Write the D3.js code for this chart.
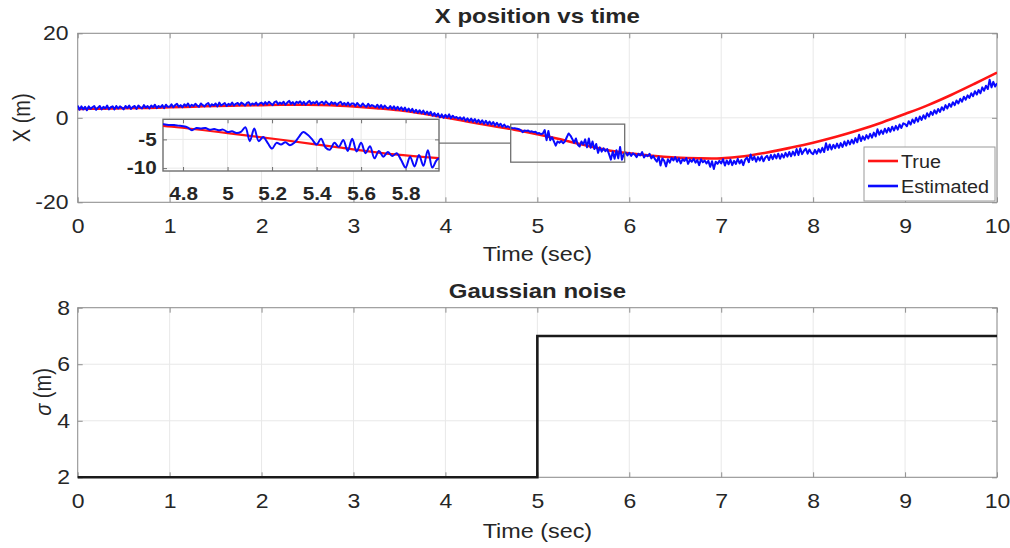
<!DOCTYPE html>
<html>
<head>
<meta charset="utf-8">
<script src="https://cdn.jsdelivr.net/npm/d3@7"></script>
<style>
  html, body { margin: 0; padding: 0; background: #fff; }
  svg { display: block; }
</style>
</head>
<body>
<svg id="chart" width="1010" height="548"></svg>
<script>
// ---- data -----------------------------------------------------------------
const timeTicks   = [0, 1, 2, 3, 4, 5, 6, 7, 8, 9, 10];
const posTicks    = [-20, 0, 20];
const sigmaTicks  = [2, 4, 6, 8];
const zoomTimeTicks = [4.8, 5, 5.2, 5.4, 5.6, 5.8];
const zoomPosTicks  = [-10, -5];
const zoomWindowT = [4.71, 5.95];
const zoomWindowX = [-10.5, -1.5];

const seriesNames = ["True", "Estimated"];

// true position, sampled every 0.25 s
const trueStep = 0.25;
const truePos = [
  2.1, 2.15, 2.25, 2.35, 2.5, 2.65, 2.8, 2.9, 3.0, 3.1, 3.1, 3.0, 2.7, 2.3, 1.8, 1.0,
  0.1, -0.9, -1.9, -2.8, -3.9, -5.1, -6.4, -7.6, -8.4, -9.0, -9.4, -9.6, -9.6, -9.1,
  -8.2, -7.1, -5.9, -4.5, -2.9, -1.1, 0.9, 3.0, 5.4, 8.0, 10.7
];

// filter estimate, sampled every 0.02 s (one row per second)
const estStep = 0.02;
const estPos = [
  2.9,1.9,2.7,2.0,2.6,1.8,2.7,2.1,2.5,2.8, 1.9,2.4,2.8,2.0,2.6,2.2,2.9,2.0,2.5,2.7, 2.0,2.8,2.2,2.7,2.4,2.0,2.8,2.3,2.9,2.1, 2.6,2.8,2.1,2.9,2.5,2.2,3.0,2.4,2.8,2.2, 2.9,2.5,3.1,2.3,2.8,2.5,3.0,2.3,3.1,2.6,
  2.6,3.2,2.5,3.0,3.3,2.6,3.0,2.5,3.2,2.8, 3.4,2.6,3.1,2.8,3.3,2.9,2.6,3.4,3.0,2.7, 3.2,3.5,2.7,3.2,2.9,3.4,2.7,3.6,2.9,3.2, 3.5,2.8,3.3,3.0,3.6,2.9,3.3,3.5,3.0,3.6, 3.3,2.9,3.5,3.7,3.0,3.4,3.1,3.6,3.0,3.4,
  3.6,3.1,3.7,3.2,3.8,3.4,3.0,3.7,3.9,3.2, 3.6,3.3,3.8,3.1,3.6,4.0,3.3,3.7,3.1,3.8, 3.5,3.9,3.2,3.8,3.1,3.6,4.0,3.3,3.7,3.4, 3.9,3.1,3.6,3.8,3.2,3.9,3.4,3.1,3.7,3.3, 3.6,3.0,3.5,3.8,3.1,3.5,3.0,3.6,2.9,3.4,
  3.4,2.8,3.5,3.0,2.7,3.4,2.9,2.6,3.3,2.7, 3.0,2.8,2.5,3.1,2.4,3.0,2.3,2.9,2.4,2.2, 2.8,2.1,2.7,2.0,2.6,1.9,2.5,1.8,2.4,1.6, 2.2,1.5,2.1,1.3,1.9,1.2,1.8,1.1,1.7,0.9, 1.5,0.8,1.4,0.5,1.1,0.4,1.0,0.1,0.8,0.0,
  0.7,0.1,0.8,-0.1,0.5,0.0,0.2,-0.2,0.1,-0.4, 0.1,-0.7,-0.1,-0.8,-0.2,-0.9,-0.3,-1.1,-0.5,-1.2, -0.6,-1.4,-0.7,-1.5,-0.9,-1.6,-1.0,-1.8,-1.2,-1.9, -1.4,-2.1,-1.6,-2.2,-2.0,-2.3,-2.4,-2.5,-2.5,-2.6, -2.7,-2.9,-3.4,-3.0,-3.1,-3.0,-3.3,-3.2,-3.4,-3.3,
  -3.7,-3.6,-3.9,-3.7,-2.9,-5.3,-3.1,-5.3,-4.6,-5.6, -6.6,-5.6,-5.9,-5.5,-6.0,-5.6,-4.6,-3.7,-4.2,-5.0, -5.9,-4.9,-6.4,-6.8,-5.6,-6.3,-5.1,-7.0,-4.9,-7.1, -5.6,-7.4,-6.2,-8.3,-7.0,-8.0,-7.2,-7.9,-7.4,-8.6, -9.9,-8.0,-9.7,-7.7,-9.6,-6.9,-9.9,-8.6,-8.2,-8.9,
  -8.3,-9.0,-8.4,-8.7,-9.3,-8.5,-8.9,-8.1,-9.4,-8.8, -9.1,-8.5,-9.6,-9.0,-9.8,-10.4,-9.2,-11.3,-9.6,-10.2, -11.5,-9.8,-10.6,-9.5,-10.1,-9.3,-10.4,-9.6,-10.8,-9.8, -10.2,-9.5,-10.9,-9.9,-10.4,-9.7,-10.6,-10.0,-11.2,-9.8, -10.5,-10.1,-10.8,-10.2,-11.6,-10.3,-12.1,-10.4,-10.9,-10.2,
  -10.8,-9.8,-11.3,-10.1,-11.0,-9.9,-11.2,-10.2,-10.9,-9.7, -10.8,-10.0,-11.2,-9.9,-9.4,-10.5,-8.7,-10.0,-9.2,-10.4, -9.3,-10.1,-9.1,-10.3,-9.4,-9.0,-10.0,-8.8,-9.8,-8.7, -9.6,-8.5,-9.7,-8.6,-9.4,-8.3,-9.2,-8.1,-9.1,-8.0, -8.9,-7.4,-8.8,-7.2,-8.6,-7.8,-7.3,-8.5,-7.5,-8.3,
  -8.6,-7.6,-8.5,-7.4,-8.2,-7.1,-8.1,-6.0,-7.6,-6.3, -7.5,-6.4,-7.2,-6.1,-7.1,-6.0,-6.9,-5.6,-6.6,-5.4, -6.3,-5.2,-6.1,-4.8,-5.8,-4.0,-5.5,-4.4,-5.2,-4.1, -4.9,-3.8,-4.7,-3.5,-4.4,-2.7,-4.0,-3.0,-3.8,-2.6, -3.5,-2.4,-3.3,-2.1,-3.0,-1.9,-2.8,-1.6,-2.4,-1.3,
  -1.5,-2.0,-0.8,-1.6,-0.4,-1.2,0.0,-0.9,0.3,-0.5, 0.6,-0.2,1.1,0.3,1.4,0.7,1.8,1.0,2.1,1.4, 2.5,1.8,3.0,2.2,3.3,2.6,3.7,3.0,4.1,3.4, 4.5,3.8,5.0,4.3,5.3,4.7,5.8,5.1,6.3,5.5, 6.6,5.8,7.2,6.4,7.6,6.8,9.0,7.2,8.5,7.4,
  8.2
];

// measurement noise standard deviation (piecewise constant)
const noiseTime  = [0, 5, 10];
const noiseSigma = [2, 7, 7];

// ---- styling ---------------------------------------------------------------
const FONT = '"Liberation Sans", Arial, Helvetica, sans-serif';
const INK = "#262626", AXIS = "#8f8f8f", GRID = "#e8e8e8";
const RED = "#ff1414", BLUE = "#0a0aff";
const SX = 1.15; // glyph width factor of this figure

const svg = d3.select("#chart").attr("font-family", FONT);

// ---- scales ------------------------------------------------------------------
const xPos = d3.scaleLinear([0, 10], [77.7, 997]);
const yPos = d3.scaleLinear([-20, 20], [202.3, 33.3]);
const xSig = d3.scaleLinear([0, 10], [77.7, 997]);
const ySig = d3.scaleLinear([2, 8], [477.3, 307.7]);
const xZoom = d3.scaleLinear(zoomWindowT, [163, 439]);
const yZoom = d3.scaleLinear(zoomWindowX, [171, 119.3]);

const trueData = truePos.map((v, i) => [i * trueStep, v]);
const estData = estPos.map((v, i) => [i * estStep, v]);
const noiseData = noiseTime.map((t, i) => [t, noiseSigma[i]]);

// ---- helpers ---------------------------------------------------------------
function label(g, x, y, str, o = {}) {
  const rot = o.rotate ? " rotate(-90)" : "";
  return g.append("text")
    .attr("transform", `translate(${x},${y}) scale(${o.sx ?? SX},1)${rot}`)
    .attr("text-anchor", o.anchor || "middle")
    .attr("font-size", o.size || 20)
    .attr("font-weight", o.weight || "normal")
    .attr("fill", o.fill || INK)
    .text(str);
}

function frame(g, x, y, xt, yt, o) {
  const [xl, xr] = x.range();
  const [yb, ytop] = y.range();
  g.append("rect").attr("x", xl).attr("y", ytop)
    .attr("width", xr - xl).attr("height", yb - ytop).attr("fill", "#fff");
  g.append("g").selectAll("line").data(xt).join("line")
    .attr("x1", d => x(d)).attr("x2", d => x(d)).attr("y1", yb).attr("y2", ytop)
    .attr("stroke", GRID).attr("stroke-width", 1);
  g.append("g").selectAll("line").data(yt).join("line")
    .attr("y1", d => y(d)).attr("y2", d => y(d)).attr("x1", xl).attr("x2", xr)
    .attr("stroke", GRID).attr("stroke-width", 1);

  const style = (sel, withText) => {
    sel.attr("font-size", null).attr("font-family", null);
    sel.select(".domain").remove();
    sel.selectAll(".tick line").attr("stroke", o.axis || AXIS).attr("stroke-width", 1);
    if (withText) {
      sel.selectAll(".tick text")
        .attr("fill", INK).attr("font-size", o.fs).attr("font-weight", o.fw)
        .attr("font-family", FONT).attr("transform", `scale(${SX},1)`);
    }
  };
  const fmt = d => String(d);
  g.append("g").attr("transform", `translate(0,${yb})`)
    .call(d3.axisBottom(x).tickValues(xt).tickSizeInner(-o.tick).tickSizeOuter(0)
      .tickPadding(o.padX).tickFormat(fmt))
    .call(style, true);
  g.append("g").attr("transform", `translate(0,${ytop})`)
    .call(d3.axisTop(x).tickValues(xt).tickSizeInner(-o.tick).tickSizeOuter(0).tickFormat(() => ""))
    .call(style, false);
  g.append("g").attr("transform", `translate(${xl},0)`)
    .call(d3.axisLeft(y).tickValues(yt).tickSizeInner(-o.tick).tickSizeOuter(0)
      .tickPadding(o.padY).tickFormat(fmt))
    .call(style, true);
  g.append("g").attr("transform", `translate(${xr},0)`)
    .call(d3.axisRight(y).tickValues(yt).tickSizeInner(-o.tick).tickSizeOuter(0).tickFormat(() => ""))
    .call(style, false);
  g.append("rect").attr("x", xl).attr("y", ytop)
    .attr("width", xr - xl).attr("height", yb - ytop)
    .attr("fill", "none").attr("stroke", o.axis || AXIS).attr("stroke-width", o.boxWidth || 1);
}

function clip(id, x, y) {
  const [xl, xr] = x.range();
  const [yb, ytop] = y.range();
  svg.append("clipPath").attr("id", id).append("rect")
    .attr("x", xl).attr("y", ytop).attr("width", xr - xl).attr("height", yb - ytop);
  return `url(#${id})`;
}

// ---- upper panel: position vs time ------------------------------------------
const posPanel = svg.append("g");
frame(posPanel, xPos, yPos, timeTicks, posTicks, { tick: 5, padX: 16.4, padY: 8, fs: 20, fw: "normal" });

const posClip = clip("clip-pos", xPos, yPos);
posPanel.append("path").datum(trueData)
  .attr("d", d3.line().x(d => xPos(d[0])).y(d => yPos(d[1])).curve(d3.curveCatmullRom))
  .attr("clip-path", posClip)
  .attr("fill", "none").attr("stroke", RED).attr("stroke-width", 2.6);
posPanel.append("path").datum(estData)
  .attr("d", d3.line().x(d => xPos(d[0])).y(d => yPos(d[1])))
  .attr("clip-path", posClip)
  .attr("fill", "none").attr("stroke", BLUE).attr("stroke-width", 2)
  .attr("stroke-linejoin", "round");

// magnified window marker and its leader line
const zx0 = xPos(zoomWindowT[0]), zx1 = xPos(zoomWindowT[1]);
const zy0 = yPos(zoomWindowX[1]), zy1 = yPos(zoomWindowX[0]);
posPanel.append("rect").attr("x", zx0).attr("y", zy0)
  .attr("width", zx1 - zx0).attr("height", zy1 - zy0)
  .attr("fill", "none").attr("stroke", "#707070").attr("stroke-width", 1.3);
const midY = (zy0 + zy1) / 2;
posPanel.append("line").attr("x1", xZoom.range()[1]).attr("x2", zx0)
  .attr("y1", midY).attr("y2", midY)
  .attr("stroke", "#707070").attr("stroke-width", 1.3);

// inset
const inset = svg.append("g");
frame(inset, xZoom, yZoom, zoomTimeTicks, zoomPosTicks,
  { tick: 4, padX: 16.4, padY: 5.5, fs: 18, fw: "bold", axis: "#6e6e6e", boxWidth: 1.4 });
const insetClip = clip("clip-inset", xZoom, yZoom);
const inWin = d => d[0] >= zoomWindowT[0] - 0.3 && d[0] <= zoomWindowT[1] + 0.3;
inset.append("path").datum(trueData.filter(inWin))
  .attr("d", d3.line().x(d => xZoom(d[0])).y(d => yZoom(d[1])).curve(d3.curveCatmullRom))
  .attr("clip-path", insetClip)
  .attr("fill", "none").attr("stroke", RED).attr("stroke-width", 2.2);
inset.append("path").datum(estData.filter(inWin))
  .attr("d", d3.line().x(d => xZoom(d[0])).y(d => yZoom(d[1])).curve(d3.curveCatmullRom))
  .attr("clip-path", insetClip)
  .attr("fill", "none").attr("stroke", BLUE).attr("stroke-width", 2)
  .attr("stroke-linejoin", "round");

// legend
const legend = svg.append("g");
legend.append("rect").attr("x", 864).attr("y", 147).attr("width", 131).attr("height", 54)
  .attr("fill", "#fff").attr("stroke", "#9a9a9a").attr("stroke-width", 1);
[RED, BLUE].forEach((c, i) => {
  const cy = 161 + i * 25;
  legend.append("line").attr("x1", 868).attr("x2", 898).attr("y1", cy).attr("y2", cy)
    .attr("stroke", c).attr("stroke-width", 2.6);
  label(legend, 901, cy + 6.6, seriesNames[i], { anchor: "start", size: 18.5, sx: 1.07 });
});

label(svg, 537.4, 23.3, "X position vs time", { size: 20.5, weight: "bold", sx: 1.17 });
label(svg, 537.4, 260.5, "Time (sec)", { size: 19.5, sx: 1.2 });
label(svg, 30, 117.8, "X (m)", { size: 20, sx: 1.15, rotate: true });

// ---- lower panel: noise level ----------------------------------------------
const sigPanel = svg.append("g");
frame(sigPanel, xSig, ySig, timeTicks, sigmaTicks, { tick: 5, padX: 16.4, padY: 6.7, fs: 20, fw: "normal" });
sigPanel.append("path").datum(noiseData)
  .attr("d", d3.line().x(d => xSig(d[0])).y(d => ySig(d[1])).curve(d3.curveStepAfter))
  .attr("fill", "none").attr("stroke", "#1a1a1a").attr("stroke-width", 2.6);

label(svg, 537.4, 298.3, "Gaussian noise", { size: 20.5, weight: "bold", sx: 1.17 });
label(svg, 537.4, 538.3, "Time (sec)", { size: 19.5, sx: 1.2 });
const sig = label(svg, 51, 392, "", { size: 20, sx: 1.15, rotate: true });
sig.append("tspan").attr("font-style", "italic").text("σ");
sig.append("tspan").text(" (m)");
</script>
</body>
</html>
